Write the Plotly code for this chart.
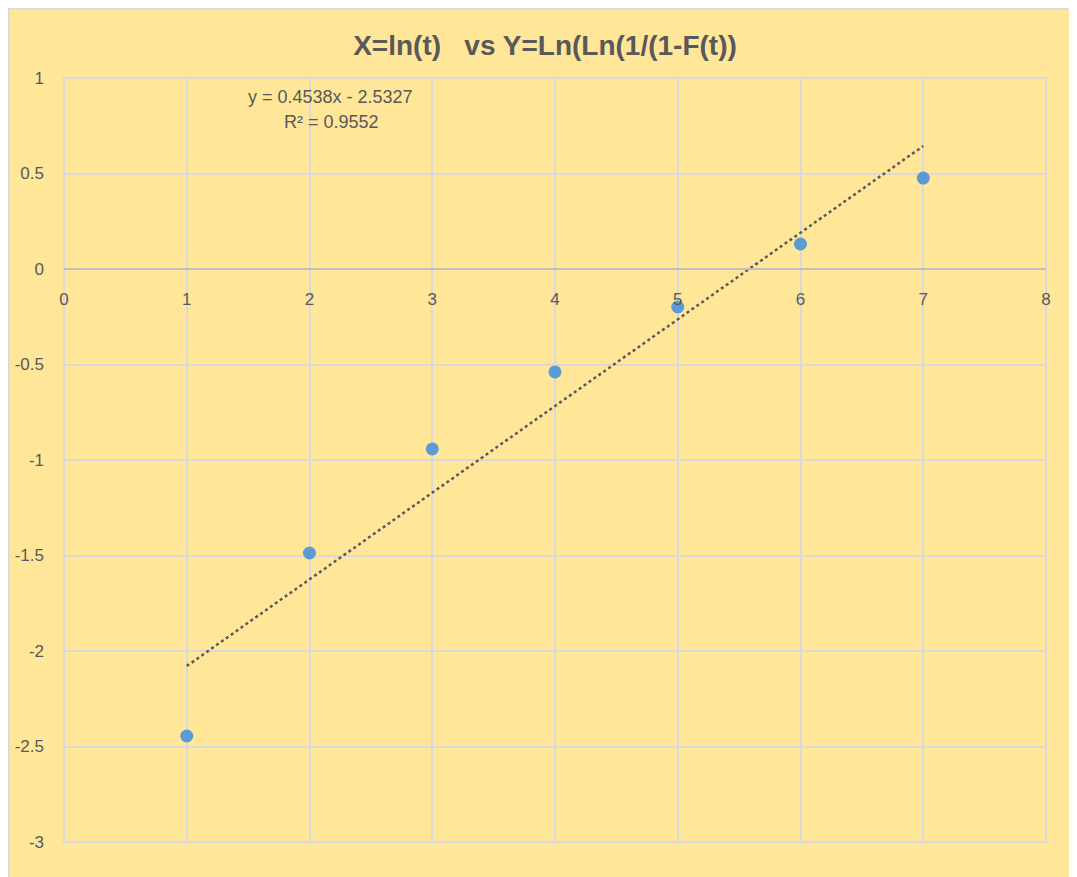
import plotly.graph_objects as go

# Data
x_vals = [1, 2, 3, 4, 5, 6, 7]
y_vals = [-2.445, -1.487, -0.942, -0.539, -0.199, 0.131, 0.476]
trend_slope = 0.4538
trend_intercept = -2.5327
x_ticks = [0, 1, 2, 3, 4, 5, 6, 7, 8]
y_ticks = [1, 0.5, 0, -0.5, -1, -1.5, -2, -2.5, -3]
y_tick_text = ["1", "0.5", "0", "-0.5", "-1", "-1.5", "-2", "-2.5", "-3"]
title_text = "X=ln(t)   vs Y=Ln(Ln(1/(1-F(t))"
eq_text = "y = 0.4538x - 2.5327"
r2_text = "R² = 0.9552"

W, H = 1077, 877
OFF = 8  # page body margin
# plot area in page pixels
L, R, T, B = 64, 1046, 78, 842
pw, ph = R - L, B - T

YEL = "#FFE699"
GRID = "#D9D9D9"
TXT = "#595959"

def dx(xp):
    return (xp - L) / pw * 8

def dy(yp):
    return 1 - (yp - T) / ph * 4

trend_x = [x_vals[0], x_vals[-1]]
trend_y = [trend_slope * v + trend_intercept for v in trend_x]

fig = go.Figure()
fig.add_trace(go.Scatter(x=trend_x, y=trend_y, mode="lines",
                         line=dict(color="#595959", width=2.5, dash="dot"),
                         hoverinfo="skip", showlegend=False))
fig.add_trace(go.Scatter(x=x_vals, y=y_vals, mode="markers",
                         marker=dict(color="#5B9BD5", size=13, line=dict(width=0)),
                         showlegend=False))

font_fam = "Liberation Sans, Arial, sans-serif"
tick_font = dict(family="Liberation Sans, Arial, sans-serif", size=17, color=TXT)

fig.update_layout(
    width=W, height=H,
    margin=dict(l=L - OFF, r=W - R + OFF, t=T - OFF, b=H - B + OFF, pad=0),
    paper_bgcolor=YEL, plot_bgcolor=YEL,
    title=dict(text="<b>" + title_text + "</b>", x=(545 - OFF) / W, xanchor="center",
               y=1 - (45 - OFF) / H, yanchor="middle",
               font=dict(family=font_fam, size=28, color=TXT)),
    xaxis=dict(range=[0, 8], tickvals=x_ticks, showgrid=True, gridcolor=GRID, gridwidth=2,
               zeroline=False, showline=True, linecolor="#BFBFBF", linewidth=2,
               anchor="free", position=(B - 269) / ph, ticks="", ticklabelstandoff=15,
               tickfont=tick_font, automargin=False),
    yaxis=dict(range=[-3, 1], tickvals=y_ticks, ticktext=y_tick_text, showgrid=True,
               gridcolor=GRID, gridwidth=2, zeroline=False, ticks="", ticklabelstandoff=19,
               tickfont=tick_font, automargin=False),
    shapes=[
        dict(type="rect", xref="paper", yref="paper", x0=0, x1=1, y0=0, y1=1,
             line=dict(color=GRID, width=2), layer="below"),
        # light frame at the chart's top and left edge
        dict(type="line", xref="paper", yref="paper",
             x0=-(L - OFF) / pw, x1=1 + (W - R + OFF) / pw,
             y0=1 + (T - OFF) / ph, y1=1 + (T - OFF) / ph,
             line=dict(color="#D9D9D9", width=3)),
        dict(type="line", xref="paper", yref="paper",
             x0=-(L - OFF) / pw, x1=-(L - OFF) / pw,
             y0=-(H - B + OFF) / ph, y1=1 + (T - OFF) / ph,
             line=dict(color="#D9D9D9", width=3)),
    ],
    annotations=[
        dict(text=eq_text, x=dx(330), y=dy(97), xref="x", yref="y",
             showarrow=False, font=dict(family=font_fam, size=18, color=TXT)),
        dict(text=r2_text, x=dx(331), y=dy(122), xref="x", yref="y",
             showarrow=False, font=dict(family=font_fam, size=18, color=TXT)),
    ],
)

fig.write_html("out.html")
